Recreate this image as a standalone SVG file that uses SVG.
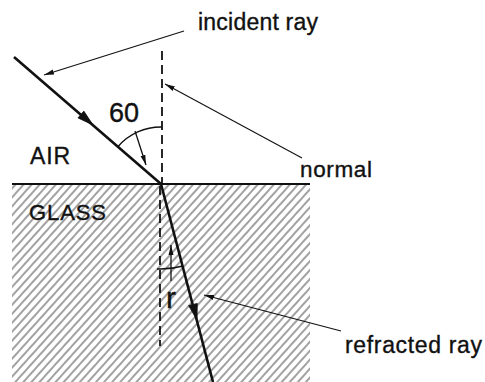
<svg xmlns="http://www.w3.org/2000/svg" width="485" height="382" viewBox="0 0 485 382">
  <style>
    .lbl { font-family: "Liberation Sans", Arial, sans-serif; fill: #111; stroke: #111; stroke-width: 0.35; }
    .ray { fill: none; stroke: #111; stroke-width: 2.6; }
    .head { fill: #111; stroke: #111; stroke-width: 0.8; stroke-linejoin: miter; }
    .lead { fill: none; stroke: #111; stroke-width: 1.1; }
    .dash { fill: none; stroke: #111; stroke-width: 1.8; stroke-dasharray: 9 5; }
    .thin { fill: none; stroke: #111; stroke-width: 1.3; }
  </style>
  <defs>
    <pattern id="hatch" patternUnits="userSpaceOnUse" width="6" height="6" patternTransform="rotate(-48)">
      <line x1="0" y1="3" x2="6" y2="3" stroke="#3a3a3a" stroke-width="0.95"/>
    </pattern>
    <marker id="small" viewBox="0 0 10 6" refX="10" refY="3" markerWidth="10" markerHeight="6" markerUnits="userSpaceOnUse" orient="auto">
      <path d="M0,0.5 L10,3 L0,5.5 Z" fill="#111"/>
    </marker>
  </defs>

  <g id="glass">
    <rect x="12" y="184" width="298" height="198" fill="url(#hatch)"/>
    <line x1="12" y1="184" x2="310" y2="184" stroke="#111" stroke-width="2"/>
    <text class="lbl" x="29" y="220" font-size="22" textLength="77" lengthAdjust="spacing">GLASS</text>
  </g>

  <g id="air">
    <text class="lbl" x="30" y="164" font-size="23" textLength="40" lengthAdjust="spacing">AIR</text>
  </g>

  <g id="normal">
    <line class="dash" x1="162" y1="51" x2="162" y2="183"/>
    <line class="dash" x1="160" y1="186" x2="160" y2="346"/>
    <text class="lbl" x="300" y="177" font-size="22.5" textLength="72" lengthAdjust="spacing">normal</text>
  </g>

  <g id="incident-ray">
    <path class="ray" d="M14,57 L161,184"/>
    <polygon class="head" points="93,125 77.96,117.9 83.84,111.1"/>
    <text class="lbl" x="198" y="30" font-size="23" textLength="120" lengthAdjust="spacing">incident ray</text>
  </g>

  <g id="refracted-ray">
    <path class="ray" d="M161,184 L213,382"/>
    <polygon class="head" points="197,320 188.6,305.6 197.3,303.4"/>
    <text class="lbl" x="345" y="353" font-size="23" textLength="137" lengthAdjust="spacing">refracted ray</text>
  </g>

  <g id="angle-60">
    <path class="thin" d="M117.9,146.7 A57,57 0 0,1 162,127"/>
    <text class="lbl" x="109" y="122" font-size="27">60</text>
  </g>

  <g id="angle-r">
    <path class="thin" d="M157,269 L161,269 A85,85 0 0,0 183,266"/>
    <text class="lbl" x="166" y="308" font-size="30">r</text>
  </g>

  <g id="connectors">
    <line class="lead" x1="184" y1="31" x2="44" y2="75" marker-end="url(#small)"/>
    <line class="lead" x1="302" y1="158" x2="165" y2="84" marker-end="url(#small)"/>
    <line class="lead" x1="341" y1="331" x2="204" y2="295" marker-end="url(#small)"/>
    <line class="thin" x1="135" y1="131" x2="146" y2="165" marker-end="url(#small)"/>
    <line class="thin" x1="171" y1="281" x2="171" y2="245" marker-end="url(#small)"/>
  </g>
</svg>
